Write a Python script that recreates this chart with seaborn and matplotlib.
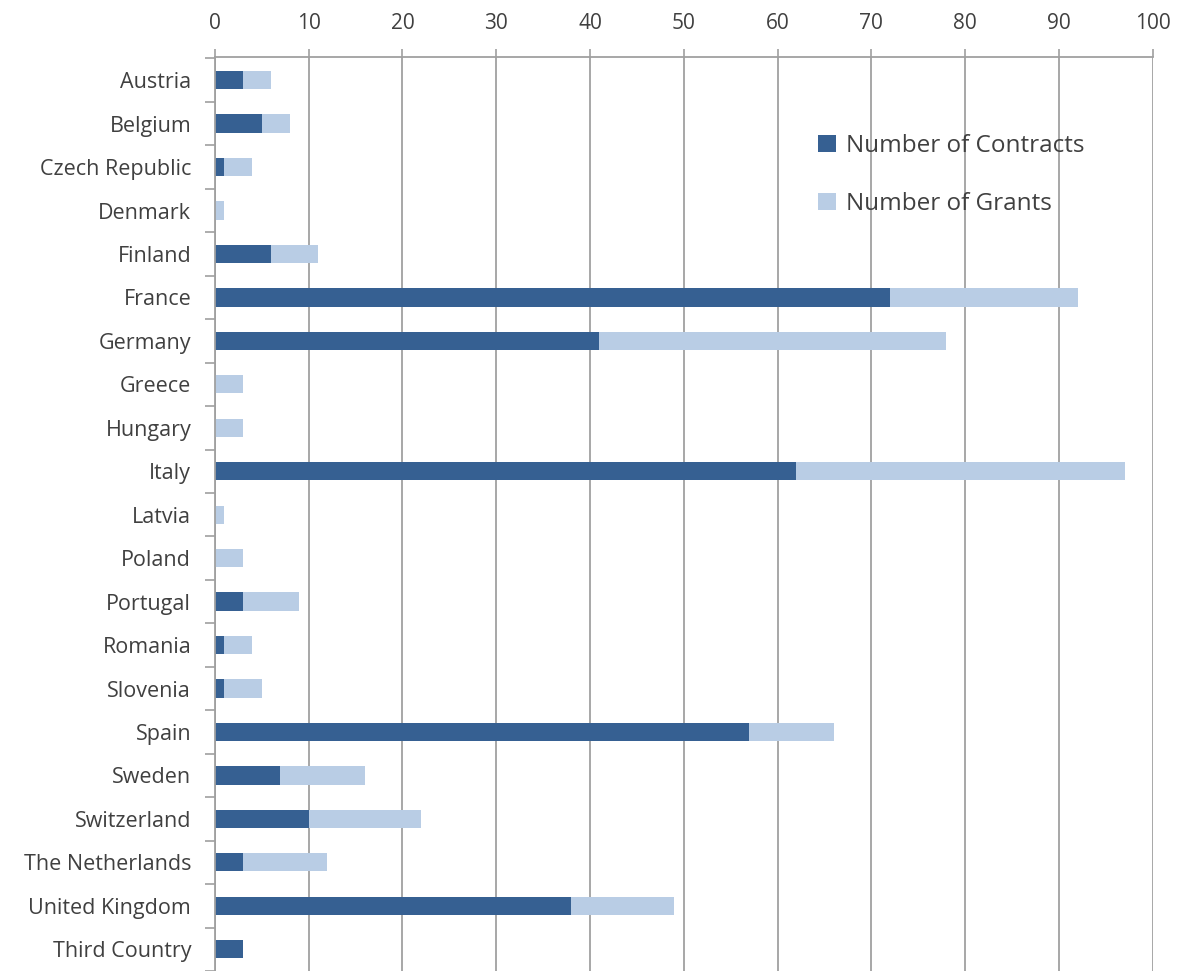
import numpy as np
import pandas as pd
import matplotlib
matplotlib.use("Agg")
import matplotlib.pyplot as plt
import seaborn as sns

countries = ["Austria", "Belgium", "Czech Republic", "Denmark", "Finland", "France",
             "Germany", "Greece", "Hungary", "Italy", "Latvia", "Poland", "Portugal",
             "Romania", "Slovenia", "Spain", "Sweden", "Switzerland", "The Netherlands",
             "United Kingdom", "Third Country"]
contracts = [3, 5, 1, 0, 6, 72, 41, 0, 0, 62, 0, 0, 3, 1, 1, 57, 7, 10, 3, 38, 3]
grants = [3, 3, 3, 1, 5, 20, 37, 3, 3, 35, 1, 3, 6, 3, 4, 9, 9, 12, 9, 11, 0]

df = pd.DataFrame({"country": countries, "contracts": contracts, "grants": grants})
df["total"] = df["contracts"] + df["grants"]

dark = "#366092"
light = "#B9CDE5"
text_col = "#404040"
grid_col = "#A0A0A0"

sns.set_theme(style="white")
plt.rcParams["font.family"] = ["Open Sans", "DejaVu Sans"]

fig = plt.figure(figsize=(11.8, 9.71), dpi=100)
ax = fig.add_axes([0.182, 0.0, 0.795, 0.941])

# stacked: draw totals in light blue, contracts in dark blue over them
sns.barplot(data=df, y="country", x="total", color=light, width=0.42,
            saturation=1, linewidth=0, label="Number of Grants", ax=ax, zorder=3)
sns.barplot(data=df, y="country", x="contracts", color=dark, width=0.42,
            saturation=1, linewidth=0, label="Number of Contracts", ax=ax, zorder=4)

ax.set_xlim(0, 100)
ax.set_ylim(20.37, -0.526)
ax.set_xticks(range(0, 101, 10))
ax.xaxis.tick_top()
ax.xaxis.set_label_position("top")
ax.set_xlabel("")
ax.set_ylabel("")
ax.tick_params(axis="x", which="major", direction="out", length=6, width=1.2,
               color=grid_col, labelsize=15, labelcolor=text_col, pad=11, top=True, bottom=False)
ax.tick_params(axis="y", which="major", length=0, labelsize=15.5, labelcolor=text_col, pad=17)

# category boundary ticks on the left spine
ax.set_yticks(np.arange(-0.5, len(countries), 1), minor=True)
ax.tick_params(axis="y", which="minor", direction="out", length=7, width=1.2, color=grid_col, left=True)

ax.grid(axis="x", color=grid_col, linewidth=1.3, zorder=0)
ax.grid(axis="y", visible=False)
for side in ["right", "bottom"]:
    ax.spines[side].set_visible(False)
for side in ["top", "left"]:
    ax.spines[side].set_color(grid_col)
    ax.spines[side].set_linewidth(1.3)
    ax.spines[side].set_zorder(5)

handles, labels = ax.get_legend_handles_labels()
order = [labels.index("Number of Contracts"), labels.index("Number of Grants")]
leg = ax.legend([handles[i] for i in order], [labels[i] for i in order],
                loc="upper left", bbox_to_anchor=(0.62, 0.94), frameon=False,
                fontsize=17.5, labelspacing=1.4, handlelength=0.75, handleheight=0.75,
                handletextpad=0.4, labelcolor=text_col)

fig.savefig("out.png", dpi=100, facecolor="white")
